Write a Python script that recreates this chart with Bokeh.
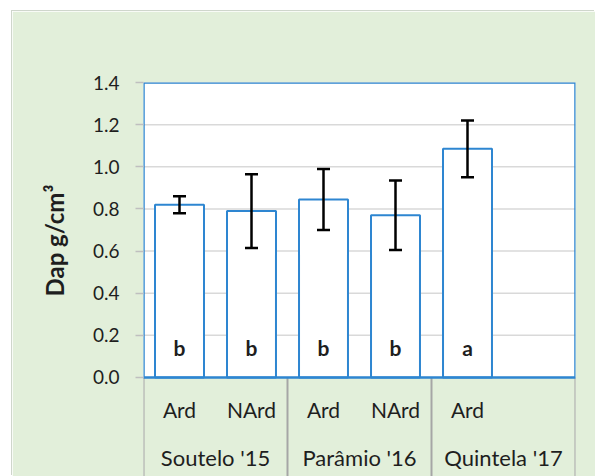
from bokeh.plotting import figure
from bokeh.models import (Range1d, ColumnDataSource, Whisker, TeeHead,
                          FixedTicker, NumeralTickFormatter, Title)
from bokeh.core.properties import value
from bokeh.embed import file_html
from bokeh.resources import INLINE

# --- data -------------------------------------------------------------
sites = ["Soutelo '15", "Parâmio '16", "Quintela '17"]
treatments = ["Ard", "NArd", "Ard", "NArd", "Ard"]
dap_mean = [0.82, 0.79, 0.845, 0.77, 1.085]
dap_err = [0.04, 0.175, 0.145, 0.165, 0.135]
letters = ["b", "b", "b", "b", "a"]
y_ticks = [0.0, 0.2, 0.4, 0.6, 0.8, 1.0, 1.2, 1.4]

# --- layout helpers -----------------------------------------------------
SLOTS_PER_SITE = 2
n_slots = SLOTS_PER_SITE * len(sites)
bar_x = [i + 0.5 for i in range(len(dap_mean))]
site_x = [SLOTS_PER_SITE * (i + 0.5) for i in range(len(sites))]
sep_x = [SLOTS_PER_SITE * i for i in range(len(sites) + 1)]
Y_TOP = max(y_ticks)
Y_BOTTOM = -0.47          # room under the value axis for the category labels

GREEN = "#e2efda"
BLUE = "#2e86d1"
GRID = "#d9d9d9"
SEP = "#a6a6a6"
INK = "#1e1e1e"
FONT = "Lato"

p = figure(width=583, height=465, margin=(11, 0, 0, 12),
           x_range=Range1d(0, n_slots), y_range=Range1d(Y_BOTTOM, Y_TOP),
           x_axis_location=None, output_backend="svg", toolbar_location=None,
           min_border_left=131, min_border_right=20,
           min_border_top=71, min_border_bottom=0)
p.border_fill_color = GREEN
p.background_fill_color = GREEN
p.outline_line_color = None
p.xgrid.visible = False
p.ygrid.visible = False
p.styles = {"box-shadow": "-1px -1px 0 #cfd6cc"}

# white plotting area
p.quad(left=[0], right=[n_slots], bottom=[0], top=[Y_TOP],
       fill_color="white", line_color=None)

# horizontal gridlines
p.segment(x0=[0] * len(y_ticks), x1=[n_slots] * len(y_ticks),
          y0=y_ticks, y1=y_ticks, line_color=GRID, line_width=1.5)

# category separators below the plotting area
p.segment(x0=sep_x, x1=sep_x, y0=[0] * len(sep_x), y1=[Y_BOTTOM] * len(sep_x),
          line_color=SEP, line_width=2)

# bars
src = ColumnDataSource(dict(
    x=bar_x, top=dap_mean,
    upper=[m + e for m, e in zip(dap_mean, dap_err)],
    lower=[m - e for m, e in zip(dap_mean, dap_err)],
    letter=letters, treat=treatments))
p.vbar(x="x", top="top", bottom=0, width=0.68, source=src,
       fill_color="white", line_color=BLUE, line_width=2)

# plotting area border
p.quad(left=[0], right=[n_slots], bottom=[0], top=[Y_TOP],
       fill_color=None, line_color=BLUE, line_width=2.5)

# error bars
head = dict(size=13, line_color="black", line_width=2.5)
p.add_layout(Whisker(base="x", upper="upper", lower="lower", source=src,
                     dimension="height", line_color="black", line_width=2.5,
                     upper_head=TeeHead(**head), lower_head=TeeHead(**head),
                     level="annotation"))

# significance letters
p.text(x="x", y=0.143, text="letter", source=src, text_align="center",
       text_baseline="alphabetic", text_font=value(FONT),
       text_font_style="bold", text_font_size="21px", text_color=INK)

# treatment and site labels
p.text(x="x", y=-0.152, text="treat", source=src, text_align="center",
       text_baseline="alphabetic", text_font=value(FONT),
       text_font_size="21px", text_color=INK)
p.text(x=site_x, y=[-0.382] * len(sites), text=sites, text_align="center",
       text_baseline="alphabetic", text_font=value(FONT),
       text_font_size="22px", text_color=INK)

# value axis
ax = p.yaxis[0]
ax.ticker = FixedTicker(ticks=y_ticks)
ax.formatter = NumeralTickFormatter(format="0.0")
ax.axis_line_color = None
ax.major_tick_in = 0
ax.major_tick_out = 8
ax.major_tick_line_color = "#bfbfbf"
ax.major_tick_line_width = 1.5
ax.minor_tick_line_color = None
ax.major_label_standoff = 16
ax.major_label_text_font = FONT
ax.major_label_text_font_size = "19px"
ax.major_label_text_color = INK

# axis title, placed along the 0–1.4 value span rather than the whole frame
p.add_layout(Title(text="Dap g/cm³", align="left", offset=180,
                   text_font=FONT, text_font_style="bold",
                   text_font_size="24px", text_color=INK,
                   standoff=42), "left")

open("out.html", "w").write(file_html(p, INLINE))
